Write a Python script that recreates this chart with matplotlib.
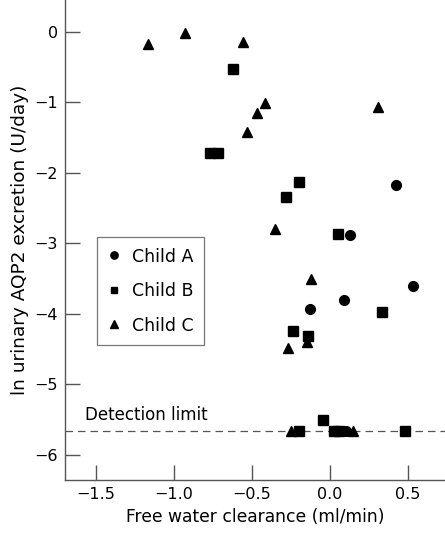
import numpy as np
from matplotlib import pyplot as plt

# Child A (circles)
child_a_x = [0.42, 0.13, 0.53, 0.09, -0.13, 0.10]
child_a_y = [-2.17, -2.88, -3.61, -3.81, -3.93, -5.67]

# Child B (squares)
child_b_x = [-0.62, -0.77, -0.72, -0.20, -0.28, 0.05, 0.33, -0.24, -0.14,
             -0.20, -0.045, 0.026, 0.058, 0.48]
child_b_y = [-0.53, -1.72, -1.72, -2.13, -2.34, -2.87, -3.98, -4.25, -4.31,
             -5.67, -5.51, -5.67, -5.67, -5.67]

# Child C (triangles)
child_c_x = [-1.17, -0.93, -0.56, -0.42, -0.47, -0.53, 0.31, -0.35, -0.12,
             -0.15, -0.27, -0.25, 0.15]
child_c_y = [-0.18, -0.02, -0.14, -1.01, -1.15, -1.42, -1.07, -2.80, -3.51,
             -4.40, -4.49, -5.67, -5.67]

detection_limit = -5.67

plt.rcParams['font.family'] = 'DejaVu Sans'
fig = plt.figure(figsize=(4.45, 5.43), dpi=100)
ax = fig.add_axes([0.146, 0.116, 0.854, 0.884])

ax.axhline(detection_limit, color='#555555', lw=0.9, dashes=(6, 4), zorder=1)
ax.text(-1.57, detection_limit + 0.1, 'Detection limit', fontsize=12, va='bottom', ha='left')

ax.plot(child_a_x, child_a_y, 'o', color='black', markersize=7, label='Child A', zorder=3)
ax.plot(child_b_x, child_b_y, 's', color='black', markersize=6.5, label='Child B', zorder=3)
ax.plot(child_c_x, child_c_y, '^', color='black', markersize=7.5, label='Child C', zorder=3)

ax.set_xlim(-1.70, 0.737)
ax.set_ylim(-6.36, 0.45)
ax.set_xticks([-1.5, -1.0, -0.5, 0.0, 0.5])
ax.set_xticklabels(['\u22121.5', '\u22121.0', '\u22120.5', '0.0', '0.5'])
ax.set_yticks([0, -1, -2, -3, -4, -5, -6])
ax.set_yticklabels(['0', '\u22121', '\u22122', '\u22123', '\u22124', '\u22125', '\u22126'])
ax.tick_params(direction='in', length=11, width=1, color='#555555', labelsize=11.5, pad=5)

for side in ['top', 'right']:
    ax.spines[side].set_visible(False)
for side in ['left', 'bottom']:
    ax.spines[side].set_color('#555555')
    ax.spines[side].set_linewidth(1)

ax.set_xlabel('Free water clearance (ml/min)', fontsize=12.3, labelpad=4)
ax.set_ylabel('ln urinary AQP2 excretion (U/day)', fontsize=13.3, labelpad=4)

leg = ax.legend(loc='upper left', bbox_to_anchor=(0.084, 0.506), borderaxespad=0,
                fancybox=False, edgecolor='#555555', fontsize=12.5, handlelength=0.8,
                handletextpad=0.6, labelspacing=0.95, borderpad=0.6, markerscale=0.75)
leg.get_frame().set_linewidth(0.9)

plt.savefig('out.png', dpi=100)
